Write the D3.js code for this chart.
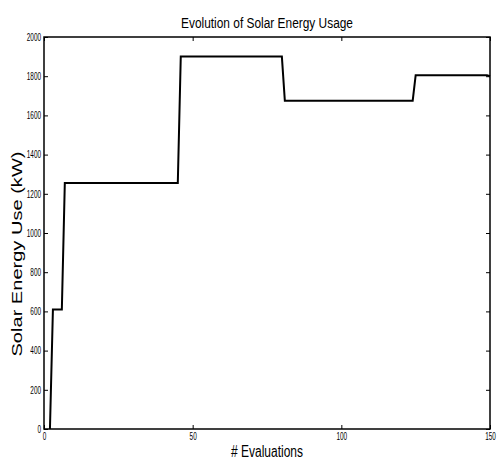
<!DOCTYPE html>
<html><head><meta charset="utf-8">
<script src="https://cdn.jsdelivr.net/npm/d3@7"></script>
<style>body{margin:0;background:#fff}</style>
</head><body>
<svg id="c" width="497" height="460"></svg>
<script>
const evals = [2, 3, 6, 7, 45, 46, 80, 81, 124, 125, 149, 150];
const energy = [0, 610, 610, 1255, 1255, 1900, 1900, 1675, 1675, 1805, 1805, 1800];
const xTicks = [0, 50, 100, 150];
const yTicks = [0, 200, 400, 600, 800, 1000, 1200, 1400, 1600, 1800, 2000];

const svg = d3.select("#c");
const L = 44, R = 490, T = 37, B = 429;
const x = d3.scaleLinear().domain([0, 150]).range([L, R]);
const y = d3.scaleLinear().domain([0, 2000]).range([B, T]);
const font = "'Liberation Sans', Arial, sans-serif";

function condense(sel, ratio){
  sel.each(function(){
    const w = this.getComputedTextLength();
    if (w > 0) d3.select(this).attr("textLength", w * ratio).attr("lengthAdjust", "spacingAndGlyphs");
  });
}
function style(g){
  g.select(".domain").remove();
  g.selectAll(".tick line").attr("stroke", "#000").attr("stroke-width", 1);
  g.selectAll(".tick text").attr("font-family", font).attr("font-size", 10).attr("fill", "#000")
    .call(condense, 0.64);
}
svg.append("g").attr("transform", `translate(0,${B})`)
  .call(d3.axisBottom(x).tickValues(xTicks).tickSize(-4).tickPadding(4).tickFormat(d3.format("d"))).call(style);
svg.append("g").attr("transform", `translate(0,${T})`)
  .call(d3.axisTop(x).tickValues(xTicks).tickSize(-4).tickFormat("")).call(style);
svg.append("g").attr("transform", `translate(${L},0)`)
  .call(d3.axisLeft(y).tickValues(yTicks).tickSize(-4).tickPadding(3).tickFormat(d3.format("d"))).call(style);
svg.append("g").attr("transform", `translate(${R},0)`)
  .call(d3.axisRight(y).tickValues(yTicks).tickSize(-4).tickFormat("")).call(style);

svg.append("rect").attr("x", L).attr("y", T).attr("width", R - L).attr("height", B - T)
  .attr("fill", "none").attr("stroke", "#000").attr("stroke-width", 1.5);

const pts = evals.map((e, i) => [e, energy[i]]);
svg.append("path").datum(pts)
  .attr("d", d3.line().x(d => x(d[0])).y(d => y(d[1])))
  .attr("fill", "none").attr("stroke", "#000").attr("stroke-width", 2);

svg.append("text").attr("x", 267).attr("y", 28).attr("text-anchor", "middle")
  .attr("font-family", font).attr("font-size", 15.5)
  .attr("textLength", 172).attr("lengthAdjust", "spacingAndGlyphs")
  .text("Evolution of Solar Energy Usage");
svg.append("text").attr("x", 267).attr("y", 457).attr("text-anchor", "middle")
  .attr("font-family", font).attr("font-size", 16)
  .attr("textLength", 72).attr("lengthAdjust", "spacingAndGlyphs")
  .text("# Evaluations");
svg.append("text").attr("transform", `translate(22,254) rotate(-90)`).attr("text-anchor", "middle")
  .attr("font-family", font).attr("font-size", 15)
  .attr("textLength", 205).attr("lengthAdjust", "spacingAndGlyphs")
  .text("Solar Energy Use (kW)");
</script>
</body></html>
